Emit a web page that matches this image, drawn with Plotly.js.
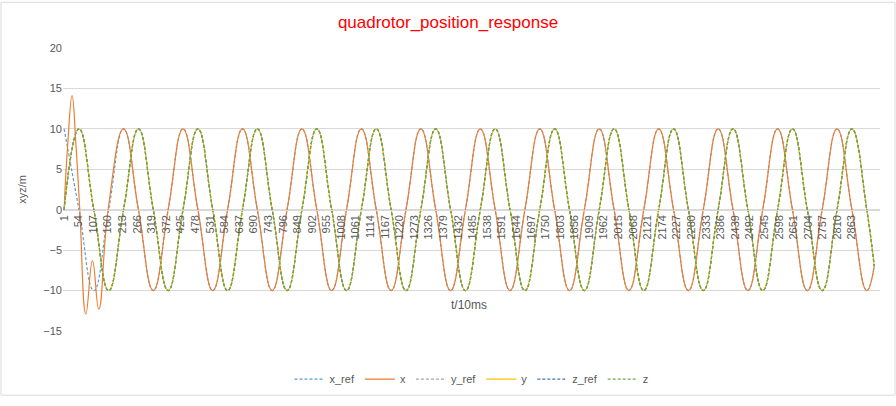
<!DOCTYPE html>
<html>
<head>
<meta charset="utf-8">
<script src="https://cdn.plot.ly/plotly-3.0.1.min.js"></script>
<style>body{margin:0;background:#fff}#chart{width:896px;height:406px}</style>
</head>
<body>
<div id="chart"></div>
<script>
// quarter-period sample times (t/10ms)
const tRef = [1,55,109,163,217,271,325,379,433,487,541,595,649,703,757,811,865,919,973,1027,
  1081,1135,1189,1243,1297,1351,1405,1459,1513,1567,1621,1675,1729,1783,1837,1891,1945,1999,2053,2107,
  2161,2215,2269,2323,2377,2431,2485,2539,2593,2647,2701,2755,2809,2863,2917,2944];
const xRefVals = [10,0,-10,0,10,0,-10,0,10,0,-10,0,10,0,-10,0,10,0,-10,0,
  10,0,-10,0,10,0,-10,0,10,0,-10,0,10,0,-10,0,10,0,-10,0,
  10,0,-10,0,10,0,-10,0,10,0,-10,0,10,0,-10,-7];
const yRefVals = [0,10,0,-10,0,10,0,-10,0,10,0,-10,0,10,0,-10,0,10,0,-10,
  0,10,0,-10,0,10,0,-10,0,10,0,-10,0,10,0,-10,0,10,0,-10,
  0,10,0,-10,0,10,0,-10,0,10,0,-10,0,10,0,-7];
const zRefVals = yRefVals.slice();

// x response: transient first, then it tracks x_ref
const xTimes = [1,14,30,44,58,80,104,127,161].concat(tRef.slice(4));
const xVals = [0,8,14.1,8,0,-12.9,-6.3,-12.3,0].concat(xRefVals.slice(4));
const yVals = yRefVals.slice();
const zVals = yRefVals.slice();

const tickVals = [];
for (let t = 1; t <= 2863; t += 53) tickVals.push(t);

function trace(x, y, name, color, dash) {
  return {x: x, y: y, name: name, type: 'scatter', mode: 'lines',
    line: {color: color, width: 1.2, dash: dash, shape: 'spline', smoothing: 1.3}};
}

const dashed = '3px,2px';
const traces = [
  trace(tRef, xRefVals, 'x_ref', '#5B9BD5', dashed),
  trace(xTimes, xVals, 'x', '#ED7D31', 'solid'),
  trace(tRef, yRefVals, 'y_ref', '#A5A5A5', dashed),
  trace(tRef, yVals, 'y', '#FFC000', 'solid'),
  trace(tRef, zRefVals, 'z_ref', '#4472C4', dashed),
  trace(tRef, zVals, 'z', '#70AD47', dashed)
];

const font = 'Liberation Sans, Arial, sans-serif';
const layout = {
  width: 896, height: 406,
  margin: {l: 63, r: 16, t: 48, b: 67},
  paper_bgcolor: '#fff', plot_bgcolor: '#fff',
  font: {family: font, size: 11, color: '#595959'},
  title: {text: 'quadrotor_position_response', font: {family: font, size: 17, color: '#ff0000'}, x: 0.5, y: 0.96},
  showlegend: true,
  legend: {orientation: 'h', x: 0.5, xanchor: 'center', y: -0.17, yanchor: 'middle', font: {size: 11, color: '#595959'}},
  xaxis: {
    range: [-3, 2965], anchor: 'free', position: 15 / 35,
    tickmode: 'array', tickvals: tickVals, ticktext: tickVals.map(String),
    tickangle: -90, showgrid: false, zeroline: false,
    showline: true, linecolor: '#d9d9d9', ticks: '', tickfont: {size: 11, color: '#595959'}
  },
  yaxis: {
    range: [-15, 20], dtick: 5, gridcolor: '#d9d9d9', zeroline: false, showline: false,
    ticks: '', tickfont: {size: 11, color: '#595959'},
    title: {text: 'xyz/m', standoff: 14, font: {size: 11, color: '#595959'}}
  },
  annotations: [{text: 't/10ms', xref: 'paper', yref: 'paper', x: 0.497, y: 0.06,
    showarrow: false, font: {size: 12, color: '#595959'}}],
  shapes: [{type: 'rect', xref: 'paper', yref: 'paper',
    x0: -62 / 817, x1: 1 + 15 / 817, y0: -66 / 291, y1: 1 + 47 / 291,
    line: {color: '#d9d9d9', width: 1}}]
};

Plotly.newPlot('chart', traces, layout, {staticPlot: true, displayModeBar: false});
</script>
</body>
</html>
